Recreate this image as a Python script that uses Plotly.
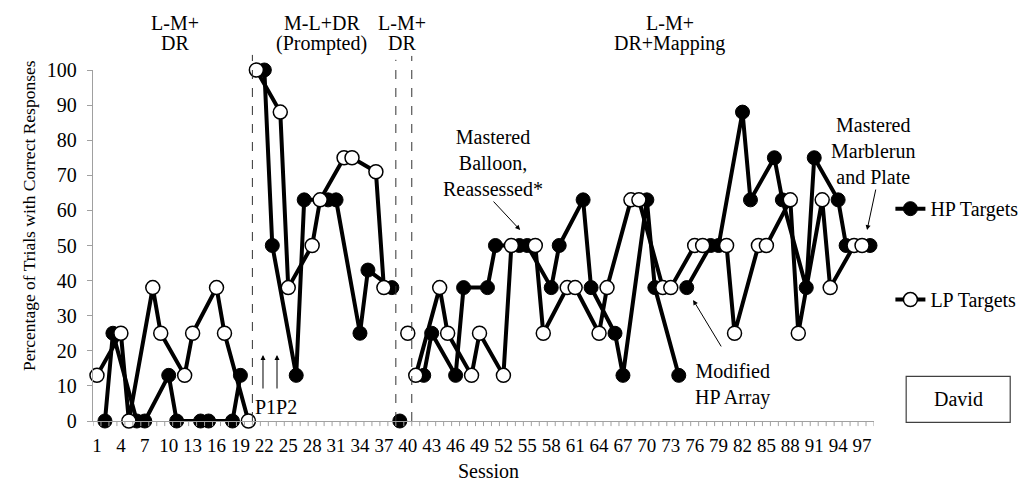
import plotly.graph_objects as go

# ---------------- data ----------------
hp_sessions = [2, 3, 6, 7, 10, 11, 14, 15, 18, 19,
               22, 23, 26, 27, 30, 31, 34, 35, 38,
               39,
               42, 43, 46, 47, 50, 51, 54, 55, 58, 59,
               62, 63, 66, 67, 70, 71, 74, 75, 78, 79,
               82, 83, 86, 87, 90, 91, 94, 95, 98]
hp_values = [0, 25, 0, 0, 13, 0, 0, 0, 0, 13,
             100, 50, 13, 63, 63, 63, 25, 43, 38,
             0,
             13, 25, 13, 38, 38, 50, 50, 50, 38, 50,
             63, 38, 25, 13, 63, 38, 13, 38, 50, 50,
             88, 63, 75, 63, 38, 75, 63, 50, 50]

lp_sessions = [1, 4, 5, 8, 9, 12, 13, 16, 17, 20,
               21, 24, 25, 28, 29, 32, 33, 36, 37,
               40,
               41, 44, 45, 48, 49, 52, 53, 56, 57, 60,
               61, 64, 65, 68, 69, 72, 73, 76, 77, 80,
               81, 84, 85, 88, 89, 92, 93, 96, 97]
lp_values = [13, 25, 0, 38, 25, 13, 25, 38, 25, 0,
             100, 88, 38, 50, 63, 75, 75, 71, 38,
             25,
             13, 38, 25, 13, 25, 13, 50, 50, 25, 38,
             38, 25, 38, 63, 63, 38, 38, 50, 50, 50,
             25, 50, 50, 63, 25, 63, 38, 50, 50]

phase_changes = [20.5, 38.5, 40.5]      # dashed phase-change lines
hp_extra_breaks = [74.5]                # HP array modified
phase_labels = [("L-M+", "DR"), ("M-L+DR", "(Prompted)"), ("L-M+", "DR"), ("L-M+", "DR+Mapping")]
phase_label_x = [10.8, 29.2, 39.3, 72.9]

n_sessions = 98
x_tick_labels = [1, 4, 7, 10, 13, 16, 19, 22, 25, 28, 31, 34, 37, 40, 43, 46, 49,
                 52, 55, 58, 61, 64, 67, 70, 73, 76, 79, 82, 85, 88, 91, 94, 97]
y_tick_labels = [0, 10, 20, 30, 40, 50, 60, 70, 80, 90, 100]

FONT = "Liberation Serif, Times New Roman, serif"
AXIS_GRAY = "#A0A0A0"


def segments(xs, ys, breaks):
    segs, cx, cy = [], [], []
    for x, y in zip(xs, ys):
        if cx and any(cx[-1] < b < x for b in breaks):
            segs.append((cx, cy))
            cx, cy = [], []
        cx.append(x)
        cy.append(y)
    if cx:
        segs.append((cx, cy))
    return segs


fig = go.Figure()

for i, (sx, sy) in enumerate(segments(hp_sessions, hp_values, phase_changes + hp_extra_breaks)):
    fig.add_trace(go.Scatter(
        x=sx, y=sy, mode="lines+markers", name="HP Targets",
        line=dict(color="black", width=4),
        marker=dict(symbol="circle", size=14, color="black", line=dict(color="black", width=1)),
        showlegend=(i == 0), legend="legend", cliponaxis=False))

for i, (sx, sy) in enumerate(segments(lp_sessions, lp_values, phase_changes)):
    fig.add_trace(go.Scatter(
        x=sx, y=sy, mode="lines+markers", name="LP Targets",
        line=dict(color="black", width=4),
        marker=dict(symbol="circle", size=14, color="white", line=dict(color="black", width=1.5)),
        showlegend=(i == 0), legend="legend2", cliponaxis=False))

shapes = []
# category-boundary tick marks on the x axis
for k in range(n_sessions + 1):
    b = 0.5 + k
    shapes.append(dict(type="line", xref="x", yref="paper", x0=b, x1=b, y0=0, y1=-0.0145,
                       line=dict(color=AXIS_GRAY, width=1)))
tops = [1.043, 1.029, 1.040]
for b, t in zip(phase_changes, tops):
    shapes.append(dict(type="line", xref="x", yref="paper", x0=b, x1=b, y0=0, y1=t,
                       line=dict(color="#333333", width=1, dash="dash")))
# David box
shapes.append(dict(type="rect", xref="paper", yref="paper", x0=1.0412, x1=1.1744, y0=-0.004, y1=0.127,
                   line=dict(color="#404040", width=1.2), fillcolor="white"))

annotations = []
for (l1, l2), px in zip(phase_labels, phase_label_x):
    annotations.append(dict(x=px, y=1.1325, xref="x", yref="paper", text=l1, showarrow=False,
                            font=dict(family=FONT, size=20, color="black"), xanchor="center", yanchor="middle"))
    annotations.append(dict(x=px, y=1.0755, xref="x", yref="paper", text=l2, showarrow=False,
                            font=dict(family=FONT, size=20, color="black"), xanchor="center", yanchor="middle"))

txt_font = dict(family=FONT, size=20, color="black")
annotations += [
    dict(x=50.7, y=73.5, xref="x", yref="y", text="Mastered<br>Balloon,<br>Reassessed*", showarrow=False,
         font=txt_font, xanchor="center", yanchor="middle"),
    dict(x=54.1, y=54.4, xref="x", yref="y", text="", showarrow=True, ax=-28, ay=-30,
         arrowhead=2, arrowsize=1, arrowwidth=1, arrowcolor="black"),
    dict(x=98.38, y=76.8, xref="x", yref="y", text="Mastered<br>Marblerun<br>and Plate", showarrow=False,
         font=txt_font, xanchor="center", yanchor="middle"),
    dict(x=97.63, y=54.4, xref="x", yref="y", text="", showarrow=True, ax=9, ay=-42,
         arrowhead=2, arrowsize=1, arrowwidth=1, arrowcolor="black"),
    dict(x=80.8, y=10.4, xref="x", yref="y", text="Modified<br>HP Array", showarrow=False,
         font=txt_font, xanchor="center", yanchor="middle"),
    dict(x=75.8, y=34.5, xref="x", yref="y", text="", showarrow=True, ax=29, ay=48,
         arrowhead=2, arrowsize=1, arrowwidth=1, arrowcolor="black"),
    dict(x=21.83, y=18.8, xref="x", yref="y", text="", showarrow=True, ax=0, ay=35,
         arrowhead=2, arrowsize=1, arrowwidth=1, arrowcolor="black"),
    dict(x=23.59, y=18.8, xref="x", yref="y", text="", showarrow=True, ax=0, ay=35,
         arrowhead=2, arrowsize=1, arrowwidth=1, arrowcolor="black"),
    dict(x=20.58, y=4.0, xref="x", yref="y", text="P1P2", showarrow=False,
         font=txt_font, xanchor="left", yanchor="middle"),
    dict(x=1.108, y=0.062, xref="paper", yref="paper", text="David", showarrow=False,
         font=txt_font, xanchor="center", yanchor="middle"),
    dict(x=0.507, y=-0.142, xref="paper", yref="paper", text="Session", showarrow=False,
         font=txt_font, xanchor="center", yanchor="middle"),
    dict(x=-0.0819, y=0.584, xref="paper", yref="paper", text="Percentage of Trials with Correct Responses",
         showarrow=False, textangle=-90, font=dict(family=FONT, size=17.5, color="black"),
         xanchor="center", yanchor="middle"),
]

fig.update_layout(
    width=1031, height=486,
    margin=dict(l=93, r=157, t=70, b=65, autoexpand=False),
    paper_bgcolor="white", plot_bgcolor="white",
    font=dict(family=FONT, size=20, color="black"),
    shapes=shapes, annotations=annotations,
    legend=dict(x=1.021, y=0.605, xanchor="left", yanchor="middle", font=dict(family=FONT, size=20),
                bgcolor="rgba(0,0,0,0)", borderwidth=0),
    legend2=dict(x=1.021, y=0.346, xanchor="left", yanchor="middle", font=dict(family=FONT, size=20),
                 bgcolor="rgba(0,0,0,0)", borderwidth=0),
    xaxis=dict(range=[0.5, 98.5], showgrid=False, zeroline=False, showline=True, linecolor=AXIS_GRAY,
               linewidth=1.3, tickmode="array", tickvals=x_tick_labels, ticktext=[str(v) for v in x_tick_labels],
               ticks="", ticklabelstandoff=7, tickfont=dict(family=FONT, size=19, color="black")),
    yaxis=dict(range=[0, 100], showgrid=False, zeroline=False, showline=True, linecolor=AXIS_GRAY,
               linewidth=1.3, tickmode="array", tickvals=y_tick_labels, ticks="outside", ticklen=5,
               ticklabelstandoff=6,
               tickcolor=AXIS_GRAY, tickfont=dict(family=FONT, size=20, color="black")),
)

fig.write_html("out.html")
